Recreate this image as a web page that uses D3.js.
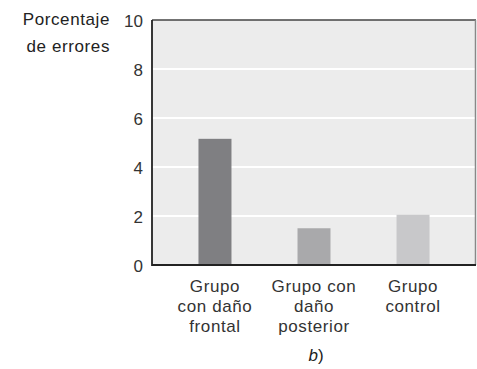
<!DOCTYPE html>
<html><head><meta charset="utf-8">
<script src="https://cdn.jsdelivr.net/npm/d3@7"></script>
<style>body{margin:0;background:#fff}svg{display:block}text{font-family:"Liberation Sans",Arial,sans-serif;fill:#222}</style>
</head><body><svg id="c" width="477" height="369"></svg>
<script>
const categories = [["Grupo","con daño","frontal"],["Grupo con","daño","posterior"],["Grupo","control"]];
const values = [5.15, 1.5, 2.05];
const colors = ["#7f7f82", "#a9a9ab", "#c8c8ca"];
const yTicks = [0, 2, 4, 6, 8, 10];
const yLabel = ["Porcentaje", "de errores"];

const svg = d3.select("#c");
const L = 152, R = 476, T = 20, B = 265;
const y = d3.scaleLinear().domain([0, 10]).range([B, T]);
const x = d3.scalePoint().domain(d3.range(categories.length)).range([L, R]).padding(0.636);
const bw = 33;

svg.append("rect").attr("x", L).attr("y", T).attr("width", R - L).attr("height", B - T).attr("fill", "#ececec");
svg.append("g").selectAll("line").data(yTicks.filter(d => d > 0 && d < 10)).join("line")
  .attr("x1", L).attr("x2", R).attr("y1", d => y(d)).attr("y2", d => y(d))
  .attr("stroke", "#fff").attr("stroke-width", 2);
svg.append("g").selectAll("rect").data(values).join("rect")
  .attr("x", (d, i) => x(i) - bw / 2).attr("width", bw)
  .attr("y", d => y(d)).attr("height", d => y(0) - y(d))
  .attr("fill", (d, i) => colors[i]);
// frame
svg.append("line").attr("x1", L).attr("x2", R).attr("y1", T).attr("y2", T).attr("stroke", "#444").attr("stroke-width", 1.5);
svg.append("line").attr("x1", R - 0.5).attr("x2", R - 0.5).attr("y1", T).attr("y2", B).attr("stroke", "#888").attr("stroke-width", 1.5);
svg.append("line").attr("x1", L).attr("x2", L).attr("y1", T).attr("y2", B + 1).attr("stroke", "#222").attr("stroke-width", 1.8);
svg.append("line").attr("x1", L).attr("x2", R).attr("y1", B).attr("y2", B).attr("stroke", "#222").attr("stroke-width", 1.8);

const ya = d3.axisLeft(y).tickValues(yTicks).tickSize(0).tickPadding(9);
const gy = svg.append("g").attr("transform", `translate(${L},0)`).call(ya);
gy.select(".domain").remove();
gy.selectAll("text").attr("font-size", 17).attr("dy", "0.36em").style("fill", "#333");

svg.append("text").attr("text-anchor", "end").attr("font-size", 17).attr("letter-spacing", 0.6).style("fill", "#222")
  .selectAll("tspan").data(yLabel).join("tspan")
  .attr("x", 110).attr("y", (d, i) => 25 + i * 27).text(d => d);

const gc = svg.append("g");
categories.forEach((lines, i) => {
  gc.append("text").attr("text-anchor", "middle").attr("font-size", 17).attr("letter-spacing", 0.6).style("fill", "#333")
    .selectAll("tspan").data(lines).join("tspan")
    .attr("x", x(i)).attr("y", (d, j) => 292 + j * 20).text(d => d);
});
const cap = svg.append("text").attr("x", 316).attr("y", 361).attr("text-anchor", "middle").attr("font-size", 17).style("fill", "#222");
cap.append("tspan").attr("font-style", "italic").text("b");
cap.append("tspan").text(")");
</script></body></html>
